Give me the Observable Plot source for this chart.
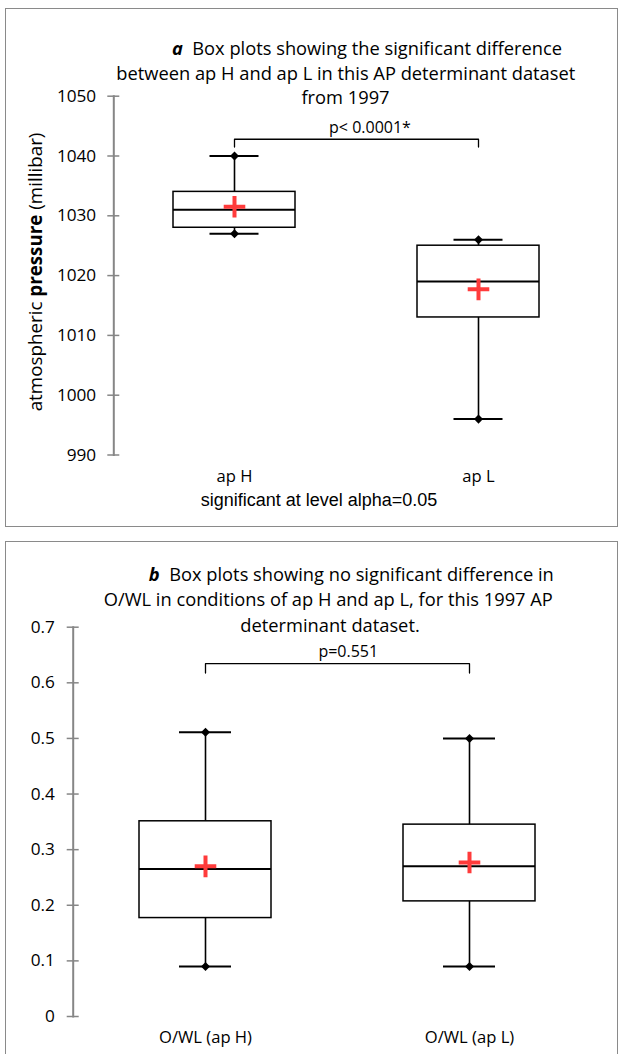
<!DOCTYPE html>
<html>
<head>
<meta charset="utf-8">
<script src="https://cdn.jsdelivr.net/npm/d3@7"></script>
<script src="https://cdn.jsdelivr.net/npm/@observablehq/plot@0.6"></script>
<style>
  html, body { margin: 0; padding: 0; overflow: hidden; background: #fff; }
  #root { position: relative; width: 619px; height: 1054px; overflow: hidden; background: #fff; font-family: "Open Sans", sans-serif; color: #000; }
  .frame { position: absolute; border: 1px solid #8a8a8a; box-sizing: border-box; }
  .t { position: absolute; white-space: pre; transform: translateX(-50%); line-height: 20px; }
  svg { position: absolute; left: 0; }
</style>
</head>
<body>
<div id="root"></div>
<script>
// ---------- Panel a data ----------
const groupsA = ["ap H", "ap L"];
const minA    = [1027, 996];
const q1A     = [1028, 1013];
const medA    = [1031, 1019];
const q3A     = [1034, 1025];
const maxA    = [1040, 1026];
const meanA   = [1031.5, 1017.7];
const ticksA  = [990, 1000, 1010, 1020, 1030, 1040, 1050];
const pTextA  = "p< 0.0001*";
const bracketA = [1041.5, 1042.8];   // drop end, bracket level

// ---------- Panel b data ----------
const groupsB = ["O/WL (ap H)", "O/WL (ap L)"];
const minB    = [0.09, 0.09];
const q1B     = [0.177, 0.207];
const medB    = [0.265, 0.270];
const q3B     = [0.351, 0.345];
const maxB    = [0.511, 0.500];
const meanB   = [0.270, 0.277];
const ticksB  = [0, 0.1, 0.2, 0.3, 0.4, 0.5, 0.6, 0.7];
const pTextB  = "p=0.551";
const bracketB = [0.6175, 0.6345];

const titleA = [["a", "  Box plots showing the significant difference"],
                [null, "between ap H and ap L in this AP determinant dataset"],
                [null, "from 1997"]];
const titleB = [["b", "  Box plots showing no significant difference in"],
                [null, "O/WL in conditions of ap H and ap L, for this 1997 AP"],
                [null, "determinant dataset."]];
const yLabelA = ["atmospheric ", "pressure", " (millibar)"];
const captionA = "significant at level alpha=0.05";

function rows(groups, mn, q1, md, q3, mx, mean) {
  return groups.map((g, i) => ({g, min: mn[i], q1: q1[i], med: md[i], q3: q3[i], max: mx[i], mean: mean[i]}));
}
function bracketRows(groups, br) {
  return [
    {g: groups[0], y: br[0]}, {g: groups[0], y: br[1]},
    {g: groups[1], y: br[1]}, {g: groups[1], y: br[0]}
  ];
}

const FONT = "Open Sans";
const AXIS_GRAY = "#868686";
const RED = "#ff3b3b";

function boxPlot({groups, data, ticks, domain, bracket, width, height, margins, capInset, tickFmt, tickPadY, tickPadX}) {
  return Plot.plot({
    width, height,
    marginTop: margins[0], marginRight: margins[1], marginBottom: margins[2], marginLeft: margins[3],
    style: {background: "transparent", fontFamily: FONT, fontSize: "17px", color: "#000"},
    x: {type: "band", domain: groups, paddingInner: 0.5, paddingOuter: margins[4], axis: null},
    y: {domain, axis: null},
    marks: [
      Plot.frame({anchor: "left", stroke: AXIS_GRAY, strokeWidth: 2}),
      Plot.axisY({ticks, tickSize: 12, dx: 6, tickFormat: () => "", stroke: AXIS_GRAY, strokeWidth: 1.5, label: null}),
      Plot.axisY({ticks, tickSize: 0, tickPadding: tickPadY, tickFormat: tickFmt, fontSize: 17.2, fill: "#000", label: null}),
      Plot.axisX({tickSize: 0, tickPadding: tickPadX, fontSize: 16.6, fill: "#000", label: null}),
      Plot.line(bracketRows(groups, bracket), {x: "g", y: "y", stroke: "#000", strokeWidth: 1.3}),
      Plot.ruleX(data, {x: "g", y1: "q3", y2: "max", stroke: "#000", strokeWidth: 1.6}),
      Plot.ruleX(data, {x: "g", y1: "min", y2: "q1", stroke: "#000", strokeWidth: 1.6}),
      Plot.barY(data, {x: "g", y1: "q1", y2: "q3", fill: "#fff", stroke: "#000", strokeWidth: 1.5}),
      Plot.tickY(data, {x: "g", y: "med", stroke: "#000", strokeWidth: 2}),
      Plot.tickY(data, {x: "g", y: "max", stroke: "#000", strokeWidth: 2, insetLeft: capInset, insetRight: capInset}),
      Plot.tickY(data, {x: "g", y: "min", stroke: "#000", strokeWidth: 2, insetLeft: capInset, insetRight: capInset}),
      Plot.dot(data, {x: "g", y: "max", symbol: "square", rotate: 45, r: 3.6, fill: "#000"}),
      Plot.dot(data, {x: "g", y: "min", symbol: "square", rotate: 45, r: 3.6, fill: "#000"}),
      Plot.dot(data, {x: "g", y: "mean", symbol: "plus", r: 7, stroke: RED, strokeWidth: 4})
    ]
  });
}

const root = document.getElementById("root");
function addDiv(cls, css, html) {
  const d = document.createElement("div");
  d.className = cls;
  Object.assign(d.style, css);
  d.innerHTML = html;
  root.appendChild(d);
  return d;
}
function esc(s) { return s.replace(/&/g, "&amp;").replace(/</g, "&lt;"); }

// ---------- Panel a ----------
const svgA = boxPlot({
  groups: groupsA, data: rows(groupsA, minA, q1A, medA, q3A, maxA, meanA),
  ticks: ticksA, domain: [990, 1050], bracket: bracketA,
  width: 619, height: 530, margins: [95.7, 20, 75.5, 113.3, 0.244], capInset: 36.5,
  tickFmt: d => String(d), tickPadY: 17.6, tickPadX: 15.5
});
svgA.style.top = "0px";
root.appendChild(svgA);

// ---------- Panel b ----------
const svgB = boxPlot({
  groups: groupsB, data: rows(groupsB, minB, q1B, medB, q3B, maxB, meanB),
  ticks: ticksB, domain: [0, 0.7], bracket: bracketB,
  width: 619, height: 524, margins: [96.7, 18.3, 38, 72.7, 0.25], capInset: 40,
  tickFmt: d => String(d), tickPadY: 18.4, tickPadX: 14.5
});
svgB.style.top = "530px";
root.appendChild(svgB);

// frames
addDiv("frame", {left: "5px", top: "8px", width: "613px", height: "519px"}, "");
addDiv("frame", {left: "5px", top: "541px", width: "613px", height: "600px"}, "");

// titles
function addTitle(lines, centers, ys) {
  lines.forEach((ln, i) => {
    const html = (ln[0] ? `<b><i>${ln[0]}</i></b>` : "") + esc(ln[1]);
    addDiv("t", {left: centers[i] + "px", top: (ys[i] - 10.5) + "px", fontSize: "18.3px"}, html);
  });
}
addTitle(titleA, [367, 345.8, 345.5], [48, 73, 97.5]);
addTitle(titleB, [351.3, 328.3, 330], [574, 599.5, 625]);

// p-value labels
addDiv("t", {left: "370px", top: (127.3 - 10.5) + "px", fontSize: "16px"}, esc(pTextA));
addDiv("t", {left: "348.3px", top: (651.7 - 10.5) + "px", fontSize: "16px"}, esc(pTextB));

// y label (panel a)
addDiv("t", {left: "35px", top: "271.7px", fontSize: "18.8px", transform: "translate(-50%,-50%) rotate(-90deg)"},
  esc(yLabelA[0]) + "<b>" + esc(yLabelA[1]) + "</b>" + esc(yLabelA[2]));

// caption (panel a)
addDiv("t", {left: "319px", top: (500 - 10.5) + "px", fontSize: "18px", fontFamily: "'Liberation Sans', Arial, sans-serif"}, esc(captionA));
</script>
</body>
</html>
